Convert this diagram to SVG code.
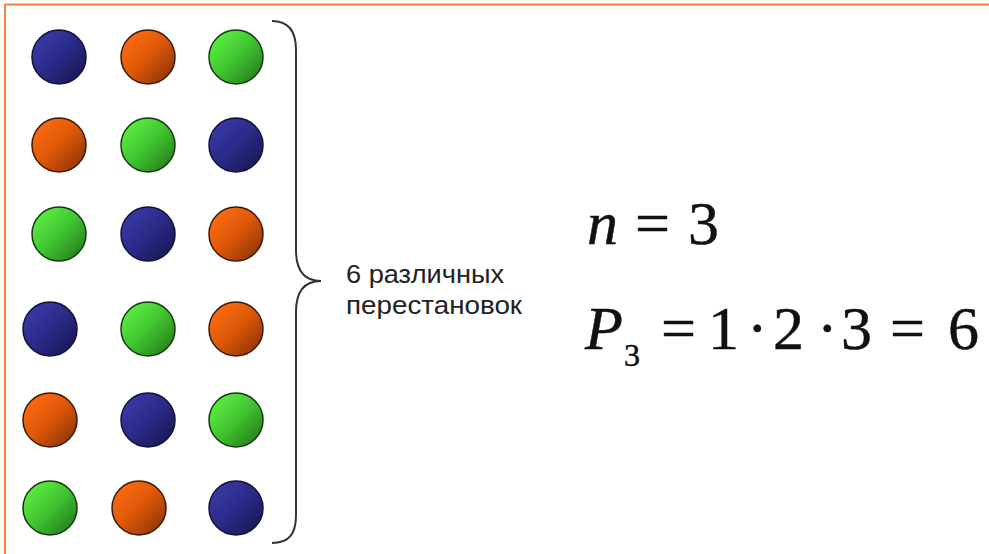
<svg xmlns="http://www.w3.org/2000/svg" width="989" height="554" viewBox="0 0 989 554">
<defs>
<linearGradient id="gBlue" x1="0.1" y1="0.1" x2="0.9" y2="0.9">
<stop offset="0" stop-color="#3a3aa8"/><stop offset="0.5" stop-color="#2a2a88"/><stop offset="1" stop-color="#181858"/>
</linearGradient>
<linearGradient id="gOrange" x1="0.1" y1="0.1" x2="0.9" y2="0.9">
<stop offset="0" stop-color="#ff6c10"/><stop offset="0.5" stop-color="#dc5808"/><stop offset="1" stop-color="#923406"/>
</linearGradient>
<linearGradient id="gGreen" x1="0.1" y1="0.1" x2="0.9" y2="0.9">
<stop offset="0" stop-color="#5ef044"/><stop offset="0.5" stop-color="#40c430"/><stop offset="1" stop-color="#27801a"/>
</linearGradient>
<style>
.b{fill:url(#gBlue);stroke:#121238;stroke-width:1.5}
.o{fill:url(#gOrange);stroke:#3a1a08;stroke-width:1.5}
.g{fill:url(#gGreen);stroke:#123a0c;stroke-width:1.5}
.lbl{font-family:"Liberation Sans",Arial,sans-serif;font-size:26px;fill:#222}
.m{font-family:"Liberation Serif","Times New Roman",serif;font-size:62px;fill:#111;stroke:#111;stroke-width:0.5}
.i{font-style:italic}
</style>
</defs>
<rect width="989" height="554" fill="#ffffff"/>
<g id="frame" stroke="#f5823c" stroke-width="2" fill="none">
<path d="M5,554 L5,4.5 L989,4.5"/>
</g>
<g id="row1"><circle id="c11" class="b" cx="59" cy="57" r="27"/><circle id="c12" class="o" cx="148" cy="57" r="27"/><circle id="c13" class="g" cx="236" cy="57" r="27"/></g>
<g id="row2"><circle id="c21" class="o" cx="59" cy="145" r="27"/><circle id="c22" class="g" cx="148" cy="145" r="27"/><circle id="c23" class="b" cx="236" cy="145" r="27"/></g>
<g id="row3"><circle id="c31" class="g" cx="59" cy="234" r="27"/><circle id="c32" class="b" cx="148" cy="234" r="27"/><circle id="c33" class="o" cx="236" cy="234" r="27"/></g>
<g id="row4"><circle id="c41" class="b" cx="50" cy="329" r="27"/><circle id="c42" class="g" cx="148" cy="329" r="27"/><circle id="c43" class="o" cx="236" cy="329" r="27"/></g>
<g id="row5"><circle id="c51" class="o" cx="50" cy="420" r="27"/><circle id="c52" class="b" cx="148" cy="420" r="27"/><circle id="c53" class="g" cx="236" cy="420" r="27"/></g>
<g id="row6"><circle id="c61" class="g" cx="50" cy="508" r="27"/><circle id="c62" class="o" cx="139" cy="508" r="27"/><circle id="c63" class="b" cx="236" cy="508" r="27"/></g>
<g id="connectors">
<path id="brace" d="M272,21 C289,21 296,32 296,50 L296,250 C296,270 304,281 321,281 C304,281 296,292 296,312 L296,515 C296,534 289,543 272,543" fill="none" stroke="#333" stroke-width="2"/>
</g>
<g id="label">
<text class="lbl" x="346" y="283" textLength="158" lengthAdjust="spacingAndGlyphs">6 различных</text>
<text class="lbl" x="346" y="314" textLength="176" lengthAdjust="spacingAndGlyphs">перестановок</text>
</g>
<g id="formula1">
<text class="m i" x="587" y="244">n</text>
<text class="m" x="635" y="244">=</text>
<text class="m" x="688" y="244">3</text>
</g>
<g id="formula2">
<text class="m i" x="585" y="349">P</text>
<text class="m" x="624" y="366" style="font-size:32px">3</text>
<text class="m" x="661" y="349">=</text>
<text class="m" x="708" y="349">1</text>
<text class="m" x="747" y="349">·</text>
<text class="m" x="773" y="349">2</text>
<text class="m" x="817" y="349">·</text>
<text class="m" x="841" y="349">3</text>
<text class="m" x="890" y="349">=</text>
<text class="m" x="948" y="349">6</text>
</g>
</svg>
